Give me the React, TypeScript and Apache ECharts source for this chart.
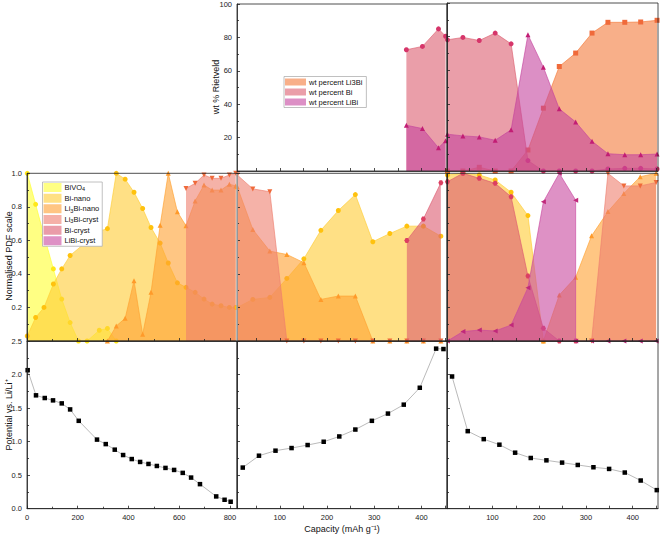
import React, { useEffect, useRef } from "react";
import * as echarts from "echarts";

const FONT = "'Liberation Sans', Arial, Helvetica, sans-serif";

// ---------- Electrochemistry (potential vs. Li/Li+) ----------
const dis1Capacity = [2.6, 35.5, 70, 102.6, 137, 170, 204, 276, 310.5, 346, 379, 413, 446, 479, 512, 546, 580, 614, 647, 682, 746, 779, 803];
const dis1Potential = [2.065, 1.69, 1.65, 1.615, 1.57, 1.48, 1.31, 1.03, 0.963, 0.88, 0.8, 0.74, 0.697, 0.667, 0.637, 0.608, 0.578, 0.534, 0.464, 0.366, 0.183, 0.133, 0.104];
const chargeCapacity = [21.7, 56, 91, 125, 159, 193, 226, 260, 295, 329, 362.5, 396.4, 431, 446.5];
const chargePotential = [0.613, 0.79, 0.865, 0.904, 0.949, 0.998, 1.077, 1.18, 1.31, 1.418, 1.551, 1.803, 2.386, 2.38];
const dis2Capacity = [13.8, 47.3, 81.5, 115, 148.6, 182, 215.5, 249, 282.5, 316, 349.5, 383, 417, 451.4];
const dis2Potential = [1.971, 1.156, 1.037, 0.954, 0.835, 0.756, 0.721, 0.687, 0.652, 0.618, 0.593, 0.539, 0.42, 0.277];

// ---------- Rietveld wt % ----------
const rietChargeCapacity = [368, 402, 436, 451];
const rietChargeBi = [72.6, 74.6, 85.1, 80.7];
const rietChargeLiBi = [27.4, 25.4, 13.9, 18.1];
const rietDis2Capacity = [4, 37, 72, 106, 140, 176, 209, 243, 278, 313, 347, 383, 417, 452];
const rietDis2Li3Bi = [0, 0, 2.2, 0, 0, 12.5, 37.4, 62.2, 70.2, 82.1, 88.5, 88.5, 88.7, 89.7];
const rietDis2Bi = [78.1, 79.5, 77.7, 82.1, 75.7, 6.2, 0, 0, 0, 0, 1.2, 1.6, 1.6, 1.2];
const rietDis2LiBi = [21.9, 20.9, 20.3, 18.3, 24.5, 81.1, 61.8, 37.0, 29.2, 17.7, 10.3, 9.7, 9.7, 10.1];

// ---------- Normalised PDF scale: [capacity, scale] ----------
// first discharge
const pdfDis1BiVO4 = [[1, 1.0], [34, 0.815], [67, 0.63], [104, 0.43], [137, 0.25], [170, 0.11], [203, 0], [237, 0], [285, 0.064], [317, 0.075], [352, 0]];
const pdfDis1BiNano = [[1, 0.03], [34, 0.14], [67, 0.2], [104, 0.34], [137, 0.43], [170, 0.51], [285, 0.655], [317, 0.67], [352, 1.0], [387, 0.965], [422, 0.887], [456, 0.79], [489, 0.677], [525, 0.584], [557, 0.465], [593, 0.347], [627, 0.32], [663, 0.29], [698, 0.25], [730, 0.22], [765, 0.21], [798, 0.2], [823, 0.2]];
const pdfDis1Li3BiNano = [[317, 0], [352, 0.09], [387, 0.135], [422, 0.36], [456, 0.04], [489, 0.29], [525, 0.69], [557, 1.0], [593, 0.77], [627, 0.687], [663, 0.835], [698, 0.93], [730, 0.9], [765, 0.9], [798, 0.935], [823, 0.925]];
const pdfDis1Li3BiCryst = [[627, 0.91], [663, 0.94], [698, 0.99], [730, 0.97], [765, 0.97], [798, 0.99], [823, 1.0]];
// charge
const pdfChargeBiNano = [[10, 0.2], [43, 0.248], [79, 0.26], [115, 0.373], [151, 0.49], [187, 0.66], [224, 0.778], [260, 0.873], [297, 0.592], [333, 0.641], [369, 0.685], [404, 0.685], [441, 0.625]];
const pdfChargeLi3BiNano = [[10, 0.92], [43, 0.665], [79, 0.536], [115, 0.516], [151, 0.467], [187, 0.248], [224, 0.268], [260, 0.268], [297, 0], [333, 0], [369, 0], [404, 0], [441, 0]];
const pdfChargeLi3BiCryst = [[10, 0.99], [43, 0.907], [79, 0.89], [115, 0], [151, 0], [187, 0], [224, 0], [260, 0], [297, 0], [333, 0], [369, 0], [404, 0], [441, 0]];
const pdfChargeBiCryst = [[369, 0.6], [404, 0.728], [441, 0.943]];
// second discharge
const pdfDis2BiNano = [[4, 0.99], [37, 1.0], [72, 0.99], [106, 0.96], [140, 0.887], [176, 0.748], [209, 0]];
const pdfDis2Li3BiNano = [[209, 0], [243, 0.274], [278, 0.38], [312, 0.627], [347, 0.772], [381, 0.88], [416, 0.98], [450, 1.0]];
const pdfDis2Li3BiCryst = [[312, 0], [347, 1.0], [381, 0.925], [416, 0.925], [450, 0.945]];
const pdfDis2BiCryst = [[4, 0.95], [37, 1.0], [72, 0.97], [106, 0.94], [140, 0.86], [176, 0.387], [209, 0.076], [243, 0], [278, 0]];
const pdfDis2LiBiCryst = [[4, 0], [37, 0.056], [72, 0.065], [106, 0.06], [140, 0.095], [176, 0.318], [209, 0.83], [243, 1.0], [278, 0.84], [278, 0], [312, 0], [347, 0], [381, 0], [416, 0], [450, 0]];

const pdfNames = ["BiVO4", "Bi-nano", "Li3Bi-nano", "Li3Bi-cryst", "Bi-cryst", "LiBi-cryst"];
const rietNames = ["wt percent Li3Bi", "wt percent Bi", "wt percent LiBi"];

const DOWN = "path://M0,0 L10,0 L5,9 Z";
const LEFT = "path://M9,0 L9,10 L0,5 Z";
const HEX = "path://M2.5,0 L7.5,0 L10,5 L7.5,10 L2.5,10 L0,5 Z";

const STY: Record<string, { fill: string; mark: string; sym: string; legend: string }> = {
  BiVO4: { fill: "#ffff30", mark: "#ffe81a", sym: "circle", legend: "#ffff83" },
  "Bi-nano": { fill: "#ffcc33", mark: "#ffc20e", sym: "circle", legend: "#ffe084" },
  "Li3Bi-nano": { fill: "#ffa030", mark: "#ff9a2a", sym: "triangle", legend: "#ffc583" },
  "Li3Bi-cryst": { fill: "#ee7e6e", mark: "#ef6a3a", sym: DOWN, legend: "#f5b0a8" },
  "Bi-cryst": { fill: "#dc5a70", mark: "#dc3f62", sym: HEX, legend: "#ea9ca9" },
  "LiBi-cryst": { fill: "#c8479f", mark: "#c0287a", sym: LEFT, legend: "#de91c5" },
  "wt percent Li3Bi": { fill: "#f47a3a", mark: "#f06a3a", sym: "rect", legend: "#f8af89" },
  "wt percent Bi": { fill: "#dc5e70", mark: "#d6356a", sym: "circle", legend: "#ea9ea9" },
  "wt percent LiBi": { fill: "#c4449e", mark: "#c21d74", sym: "triangle", legend: "#dc8fc5" },
};

const zip = (xs: number[], ys: number[]) => xs.map((x, i) => [x, ys[i]]);

let zCounter = 2;
function area(name: string, data: number[][], idx: number) {
  const s = STY[name];
  zCounter += 1;
  return {
    type: "line",
    name,
    data,
    xAxisIndex: idx,
    yAxisIndex: idx,
    z: zCounter,
    symbol: s.sym,
    symbolSize: 5,
    showSymbol: true,
    silent: true,
    clip: true,
    itemStyle: { color: s.mark },
    lineStyle: { color: s.fill, width: 0.8, opacity: 0.8 },
    areaStyle: { color: s.fill, opacity: 0.6 },
    emphasis: { disabled: true },
  };
}

function echem(xs: number[], ys: number[], idx: number) {
  return {
    type: "line",
    name: "potential" + idx,
    data: zip(xs, ys),
    xAxisIndex: idx,
    yAxisIndex: idx,
    z: 40,
    symbol: "rect",
    symbolSize: 4.5,
    silent: true,
    itemStyle: { color: "#000" },
    lineStyle: { color: "#a8a8a8", width: 0.8 },
    emphasis: { disabled: true },
  };
}

const near = (v: number, step: number) => Math.abs(v / step - Math.round(v / step)) < 1e-6;

const labelStyle = { fontFamily: FONT, fontSize: 7.5, color: "#222" };
const tick = { show: true, inside: true, length: 3, lineStyle: { color: "#222", width: 0.8 } };
const line = { show: true, lineStyle: { color: "#222", width: 0.8 } };

function xAxisDef(idx: number, kind: "L" | "M" | "R", labels: boolean) {
  const base: any = {
    type: "value",
    gridIndex: idx,
    z: 50,
    splitLine: { show: false },
    axisLine: line,
  };
  if (kind === "L") {
    base.min = 0;
    base.max = 828;
    base.interval = 200;
    base.axisTick = tick;
    base.minorTick = { show: true, splitNumber: 2, length: 2, lineStyle: { color: "#222", width: 0.8 } };
    base.axisLabel = labels
      ? { ...labelStyle, margin: 5, formatter: (v: number) => (near(v, 200) && v <= 800 ? String(v) : "") }
      : { show: false };
  } else {
    base.min = kind === "M" ? 9.5 : 3;
    base.max = 454;
    base.axisTick = { ...tick, customValues: [50, 100, 150, 200, 250, 300, 350, 400, 450] };
    base.axisLabel = labels
      ? { ...labelStyle, margin: 5, customValues: [100, 200, 300, 400] }
      : { show: false };
  }
  return base;
}

function yAxisDef(idx: number, max: number, interval: number, labels: boolean, dec: number) {
  return {
    type: "value",
    gridIndex: idx,
    z: 50,
    min: 0,
    max,
    interval,
    splitLine: { show: false },
    axisLine: line,
    axisTick: tick,
    minorTick: { show: true, splitNumber: 2, length: 2, lineStyle: { color: "#222", width: 0.8 } },
    axisLabel: labels
      ? {
          ...labelStyle,
          margin: 5,
          formatter: (v: number) => {
            if (max !== 2.5 && v === 0) return "";
            return dec ? v.toFixed(dec) : String(v);
          },
        }
      : { show: false },
  };
}

const legendFmt = (name: string) => {
  if (name === "BiVO4") return "{a|BiVO}{s|4}";
  if (name.startsWith("Li3Bi")) return "{a|Li}{s|3}{a|" + name.slice(3) + "}";
  return "{a|" + name + "}";
};

export default function App() {
  const ref = useRef<HTMLDivElement>(null);
  useEffect(() => {
    if (!ref.current) return;
    const chart = echarts.init(ref.current, undefined, { renderer: "svg" });

    const gl = (left: number, top: number, width: number, height: number) => ({
      left,
      top,
      width,
      height,
      show: true,
      z: 50,
      borderColor: "#222",
      borderWidth: 0.8,
      backgroundColor: "transparent",
    });

    zCounter = 2;
    const series: any[] = [
      // Rietveld, charge end
      area("wt percent Bi", zip(rietChargeCapacity, rietChargeBi), 0),
      area("wt percent LiBi", zip(rietChargeCapacity, rietChargeLiBi), 0),
      // Rietveld, second discharge
      area("wt percent Li3Bi", zip(rietDis2Capacity, rietDis2Li3Bi), 1),
      area("wt percent Bi", zip(rietDis2Capacity, rietDis2Bi), 1),
      area("wt percent LiBi", zip(rietDis2Capacity, rietDis2LiBi), 1),
      // PDF first discharge
      area("BiVO4", pdfDis1BiVO4, 2),
      area("Bi-nano", pdfDis1BiNano, 2),
      area("Li3Bi-nano", pdfDis1Li3BiNano, 2),
      area("Li3Bi-cryst", pdfDis1Li3BiCryst, 2),
      // PDF charge
      area("Bi-nano", pdfChargeBiNano, 3),
      area("Li3Bi-nano", pdfChargeLi3BiNano, 3),
      area("Li3Bi-cryst", pdfChargeLi3BiCryst, 3),
      area("Bi-cryst", pdfChargeBiCryst, 3),
      // PDF second discharge
      area("Bi-nano", pdfDis2BiNano, 4),
      area("Li3Bi-nano", pdfDis2Li3BiNano, 4),
      area("Li3Bi-cryst", pdfDis2Li3BiCryst, 4),
      area("Bi-cryst", pdfDis2BiCryst, 4),
      area("LiBi-cryst", pdfDis2LiBiCryst, 4),
      // electrochemistry
      echem(dis1Capacity, dis1Potential, 5),
      echem(chargeCapacity, chargePotential, 6),
      echem(dis2Capacity, dis2Potential, 7),
    ];

    const option: any = {
      animation: false,
      grid: [
        gl(237, 3, 210, 168),
        gl(447, 3, 211, 168),
        gl(27, 173.3, 210, 167.7),
        gl(237, 173.3, 210, 167.7),
        gl(447, 173.3, 211, 167.7),
        gl(27, 341, 210, 167.7),
        gl(237, 341, 210, 167.7),
        gl(447, 341, 211, 167.7),
      ],
      xAxis: [
        xAxisDef(0, "M", false),
        xAxisDef(1, "R", false),
        xAxisDef(2, "L", false),
        xAxisDef(3, "M", false),
        xAxisDef(4, "R", false),
        xAxisDef(5, "L", true),
        xAxisDef(6, "M", true),
        xAxisDef(7, "R", true),
      ],
      yAxis: [
        yAxisDef(0, 100, 20, true, 0),
        yAxisDef(1, 100, 20, false, 0),
        yAxisDef(2, 1, 0.2, true, 1),
        yAxisDef(3, 1, 0.2, false, 1),
        yAxisDef(4, 1, 0.2, false, 1),
        yAxisDef(5, 2.5, 0.5, true, 1),
        yAxisDef(6, 2.5, 0.5, false, 1),
        yAxisDef(7, 2.5, 0.5, false, 1),
      ],
      legend: [
        {
          orient: "vertical",
          left: 284,
          top: 76.5,
          z: 60,
          itemWidth: 21,
          itemHeight: 7,
          itemGap: 1,
          padding: [1, 4, 1, 1],
          borderColor: "#b0b0b0",
          borderWidth: 0.8,
          backgroundColor: "#fff",
          icon: "rect",
          selectedMode: false,
          textStyle: { fontFamily: FONT, fontSize: 7.5, color: "#111", lineHeight: 9, padding: [0, 0, 0, -2] },
          data: rietNames.map((n) => ({ name: n, itemStyle: { color: STY[n].legend, opacity: 1 } })),
        },
        {
          orient: "vertical",
          left: 42.5,
          top: 182,
          z: 60,
          itemWidth: 18,
          itemHeight: 9,
          itemGap: 1.5,
          padding: [1, 3, 1, 1],
          borderColor: "#b0b0b0",
          borderWidth: 0.8,
          backgroundColor: "#fff",
          icon: "rect",
          selectedMode: false,
          formatter: legendFmt,
          textStyle: {
            fontFamily: FONT,
            fontSize: 7.5,
            color: "#111",
            padding: [0, 0, 0, -2],
            rich: {
              a: { fontFamily: FONT, fontSize: 7.5, color: "#111", lineHeight: 9.5 },
              s: { fontFamily: FONT, fontSize: 5.5, color: "#111", lineHeight: 5, verticalAlign: "bottom" },
            },
          },
          data: pdfNames.map((n) => ({ name: n, itemStyle: { color: STY[n].legend, opacity: 1 } })),
        },
      ],
      series,
      graphic: [
        {
          type: "line",
          z: 100,
          shape: { x1: 237, y1: 174, x2: 237, y2: 340.5 },
          style: { stroke: "#ffffff", lineWidth: 1 },
        },
        {
          type: "text",
          x: 9,
          y: 256,
          rotation: Math.PI / 2,
          style: { text: "Normalised PDF scale", fontFamily: FONT, fontSize: 9, fill: "#111", align: "center", verticalAlign: "middle" },
        },
        {
          type: "text",
          x: 9,
          y: 415,
          rotation: Math.PI / 2,
          style: { text: "Potential vs. Li/Li⁺", fontFamily: FONT, fontSize: 9, fill: "#111", align: "center", verticalAlign: "middle" },
        },
        {
          type: "text",
          x: 216,
          y: 87,
          rotation: Math.PI / 2,
          style: { text: "wt % Rietveld", fontFamily: FONT, fontSize: 9, fill: "#111", align: "center", verticalAlign: "middle" },
        },
        {
          type: "text",
          x: 342,
          y: 529,
          style: { text: "Capacity (mAh g⁻¹)", fontFamily: FONT, fontSize: 9, fill: "#111", align: "center", verticalAlign: "middle" },
        },
      ],
    };

    chart.setOption(option);
    return () => chart.dispose();
  }, []);

  return <div ref={ref} style={{ position: "absolute", left: 0, top: 0, width: 660, height: 537, background: "#fff" }} />;
}
